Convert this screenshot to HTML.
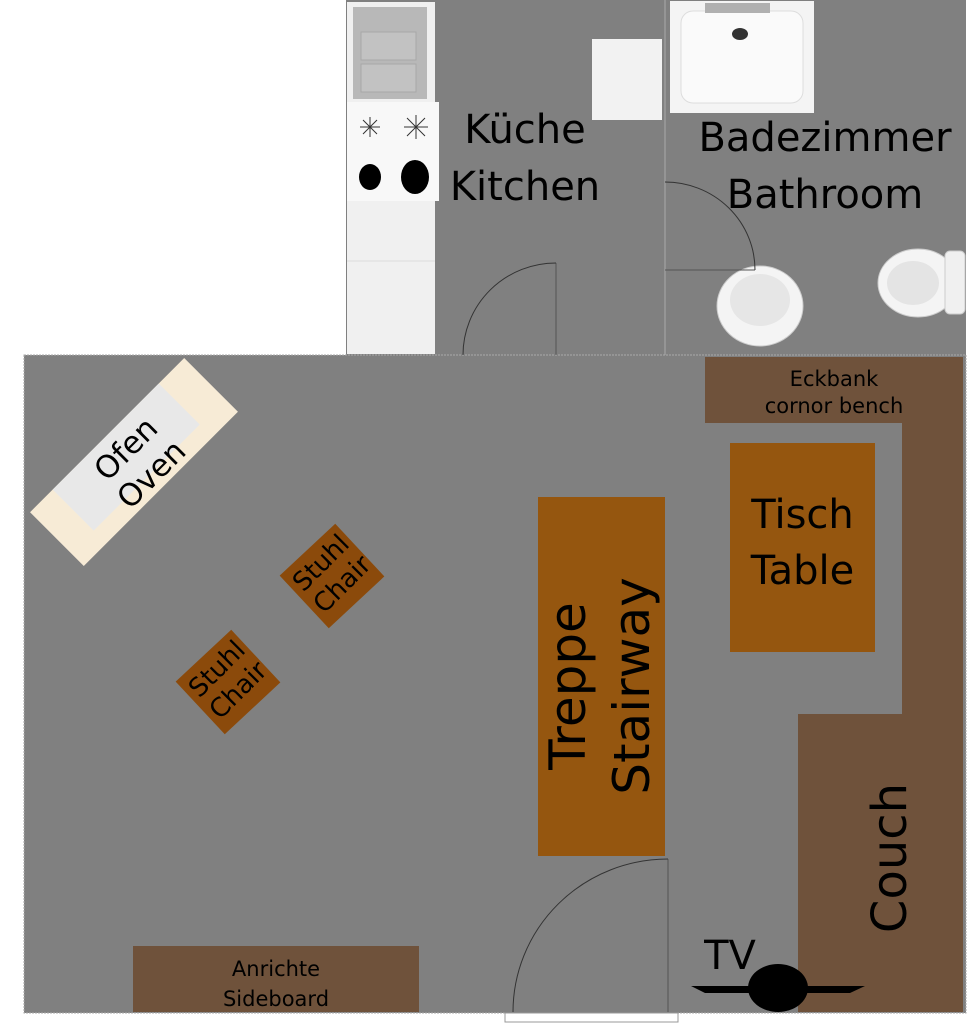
<!DOCTYPE html>
<html><head><meta charset="utf-8"><style>
body{margin:0;width:969px;height:1024px;background:#fff;overflow:hidden;position:relative;font-family:"DejaVu Sans","Liberation Sans",sans-serif}
.a{position:absolute}
.t{position:absolute;text-align:center;color:#000;line-height:1.15}
</style></head><body>
<svg class="a" style="left:0;top:0" width="969" height="1024">
<rect x="346" y="0" width="620" height="356" fill="#808080"/>
<rect x="24" y="355" width="942" height="658" fill="#808080" stroke="#aaa" stroke-dasharray="2 1"/>
<line x1="665" y1="0" x2="665" y2="355" stroke="#aaa"/>
<rect x="505" y="1013" width="173" height="9" fill="#fff" stroke="#999"/>
<rect x="347" y="2" width="88" height="352" fill="#f0f0f0"/>
<rect x="353" y="7" width="74" height="92" fill="#b8b8b8"/>
<rect x="361" y="32" width="55" height="28" fill="#c2c2c2" stroke="#a8a8a8"/>
<rect x="361" y="64" width="55" height="28" fill="#c2c2c2" stroke="#a8a8a8"/>
<rect x="347" y="102" width="92" height="99" fill="#f8f8f8"/>
<g stroke="#333" stroke-width="1">
<path d="M370 117V137M360 127H380M363 120L377 134M377 120L363 134"/>
<path d="M416 115V139M404 127H428M407 118L425 136M425 118L407 136"/>
</g>
<ellipse cx="370" cy="177" rx="11" ry="13" fill="#000"/>
<ellipse cx="415" cy="177" rx="14" ry="17" fill="#000"/>
<line x1="347" y1="261" x2="435" y2="261" stroke="#ddd"/>
<rect x="592" y="39" width="70" height="81" fill="#f2f2f2"/>
<rect x="670" y="1" width="144" height="112" fill="#f4f4f4"/>
<rect x="681" y="11" width="122" height="92" rx="12" fill="#fafafa" stroke="#ddd"/>
<rect x="705" y="3" width="65" height="10" fill="#b0b0b0"/>
<ellipse cx="740" cy="34" rx="8" ry="6" fill="#333"/>
<ellipse cx="760" cy="306" rx="43" ry="40" fill="#f4f4f4" stroke="#ccc"/>
<ellipse cx="760" cy="300" rx="30" ry="26" fill="#e6e6e6"/>
<ellipse cx="918" cy="283" rx="40" ry="34" fill="#f4f4f4" stroke="#ccc"/>
<ellipse cx="913" cy="283" rx="26" ry="22" fill="#e4e4e4"/>
<rect x="945" y="251" width="20" height="63" rx="5" fill="#f0f0f0" stroke="#ccc"/>
<line x1="556" y1="263" x2="556" y2="355" stroke="#555"/>
<path d="M556 263 A93 92 0 0 0 463 355" fill="none" stroke="#333"/>
<line x1="665" y1="270" x2="755" y2="270" stroke="#555"/>
<path d="M665 182 A90 88 0 0 1 755 270" fill="none" stroke="#333"/>
<line x1="668" y1="859" x2="668" y2="1012" stroke="#555"/>
<path d="M668 859 A155 153 0 0 0 513 1012" fill="none" stroke="#333"/>
<rect x="705" y="357" width="258" height="66" fill="#6f523b"/>
<rect x="902" y="423" width="61" height="292" fill="#6f523b"/>
<rect x="798" y="714" width="165" height="298" fill="#6f523b"/>
<rect x="730" y="443" width="145" height="209" fill="#95560f"/>
<rect x="538" y="497" width="127" height="359" fill="#95560f"/>
<rect x="133" y="946" width="286" height="66" fill="#6f523b"/>
<g transform="translate(134,462) rotate(-45)">
<rect x="-109" y="-38" width="218" height="76" fill="#f7ebd6"/>
<rect x="-77" y="-38" width="150" height="58" fill="#e8e8e8"/>
</g>
<g transform="translate(332,576) rotate(-43)"><rect x="-38" y="-36" width="76" height="72" fill="#8b4a0b"/></g>
<g transform="translate(228,682) rotate(-43)"><rect x="-38" y="-36" width="76" height="72" fill="#8b4a0b"/></g>
<ellipse cx="778" cy="988" rx="30" ry="24" fill="#000"/>
<path d="M691 986 L865 986 L850 993 L705 993 Z" fill="#000"/>
</svg>
<div class="t" style="left:440px;top:102px;width:170px;font-size:40px;line-height:57px">Küche<br>Kitchen</div>
<div class="t" style="left:690px;top:110px;width:270px;font-size:40px;line-height:57px">Badezimmer<br>Bathroom</div>
<div class="t" style="left:705px;top:366px;width:258px;font-size:21px;line-height:27px">Eckbank<br>cornor bench</div>
<div class="t" style="left:730px;top:487px;width:145px;font-size:40px;line-height:56px">Tisch<br>Table</div>
<div class="t" style="left:133px;top:954px;width:286px;font-size:21px;line-height:30px">Anrichte<br>Sideboard</div>
<div class="t" style="left:420px;top:622px;width:360px;font-size:50px;line-height:64px;transform:rotate(-90deg)">Treppe<br>Stairway</div>
<div class="t" style="left:780px;top:830px;width:220px;font-size:48px;line-height:56px;transform:rotate(-90deg)">Couch</div>
<div class="t" style="left:700px;top:933px;width:60px;font-size:40px;line-height:46px">TV</div>
<div class="t" style="left:64px;top:426px;width:150px;font-size:31px;line-height:36px;transform:rotate(-45deg)">Ofen<br>Oven</div>
<div class="t" style="left:277px;top:544px;width:110px;font-size:26px;line-height:30px;transform:rotate(-45deg)">Stuhl<br>Chair</div>
<div class="t" style="left:173px;top:650px;width:110px;font-size:26px;line-height:30px;transform:rotate(-45deg)">Stuhl<br>Chair</div>
</body></html>
